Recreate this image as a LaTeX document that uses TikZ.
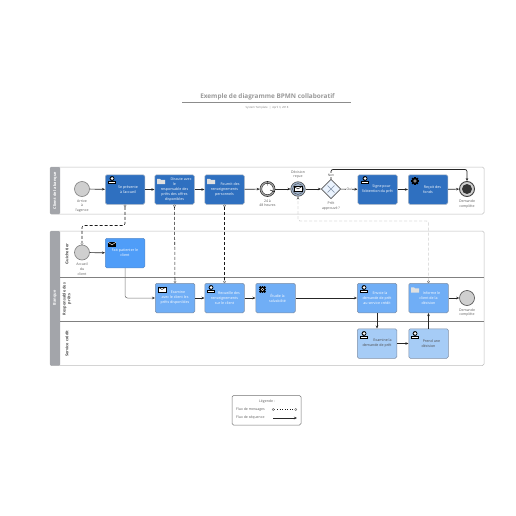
\documentclass[tikz,border=0pt]{standalone}
\usepackage{fontspec}
\setmainfont{Open Sans}
\usetikzlibrary{arrows.meta,shapes.geometric,calc,positioning}
\definecolor{taskdark}{HTML}{2F70C0}
\definecolor{taskmid}{HTML}{4F9DF8}
\definecolor{tasklane}{HTML}{70AEF6}
\definecolor{tasklight}{HTML}{A6CCF6}
\definecolor{poolgray}{HTML}{A3A5AA}
\definecolor{borderg}{HTML}{BDBDBD}
\definecolor{evgray}{HTML}{CFCFCF}
\definecolor{softb}{HTML}{7F8FA6}
\tikzset{
  pool/.style={draw=borderg,line width=.5pt,rounded corners=1.5pt},
  poolhead/.style={fill=poolgray,draw=none,rounded corners=1pt},
  lane/.style={draw=black!50,line width=.6pt},
  task/.style={rectangle,rounded corners=1.5pt,minimum width=39.5pt,minimum height=29.5pt,inner sep=0pt,line width=.5pt,align=center,font=\fontsize{3.6}{4.9}\selectfont},
  tdark/.style={task,fill=taskdark,draw=softb!70,text=white},
  tmid/.style={task,fill=taskmid,draw=taskdark!80,text=white},
  tlane/.style={task,fill=tasklane,draw=softb,text=white},
  tlight/.style={task,fill=tasklight,draw=softb,text=black!70},
  evt/.style={circle,minimum size=15pt,inner sep=0pt,fill=evgray,draw=black!50,line width=.6pt},
  lab/.style={align=center,inner sep=0pt,text=black!65,font=\fontsize{3.5}{4.8}\selectfont},
  seq/.style={draw=black!85,line width=.7pt,-{Stealth[length=3pt,width=2.5pt]}},
  msg/.style={draw=black!90,line width=.55pt,densely dashed,{Circle[open,fill=white,length=2.6pt,width=2.6pt,line width=.3pt,sep=0pt,black!60]}-{Circle[open,fill=white,length=2.6pt,width=2.6pt,line width=.3pt,black!60]},rounded corners=2pt},
  msgl/.style={draw=black!35,line width=.45pt,densely dashed,{Circle[open,fill=white,length=2.6pt,width=2.6pt,line width=.3pt,black!60]}-{Stealth[length=3pt,width=2.5pt,black!60]},rounded corners=2pt},
  lanelab/.style={rotate=90,align=center,inner sep=0pt,font=\bfseries\fontsize{3.9}{4.8}\selectfont,text=black!70},
  headlab/.style={rotate=90,align=center,inner sep=0pt,font=\bfseries\fontsize{3.9}{4.8}\selectfont,text=white},
  pics/usericon/.style={code={
    \fill[black] (-3.8,3) rectangle (3.8,-0.2);
    \fill[black] (0,-2.5) circle (2.4);
    \fill[white] (-2.9,2.3) rectangle (2.9,.6);
    \fill[white] (0,-2.5) circle (1.5);
  }},
  pics/foldericon/.style={code={
    \fill[black!12] (-4,3) -- (-4,-2.2) -- (-1,-2.2) -- (0,-1.2) -- (4,-1.2) -- (4,3) -- cycle;
  }},
  pics/gearicon/.style={code={
    \foreach \a in {0,45,...,315}{\fill[black,rotate=\a] (-.9,-3.9) rectangle (.9,-2);}
    \fill[black] (0,0) circle (3);
    \fill[white] (0,0) circle (1.6);
    \fill[black] (0,0) circle (.8);
  }},
  pics/envicon/.style={code={
    \fill[black] (-4,-2.6) rectangle (4,2.6);
    \draw[white,line width=.45pt] (-4,-2.4) -- (0,.4) -- (4,-2.4);
  }},
  pics/envwhite/.style={code={
    \fill[white] (-4,-2.5) rectangle (4,2.5);
    \draw[black,line width=.6pt] (-4,-2.5) rectangle (4,2.5);
    \draw[black,line width=.4pt] (-4,-2.5) -- (0,0) -- (4,-2.5);
  }},
}
\begin{document}
\begin{tikzpicture}[x=1pt,y=-1pt]
\useasboundingbox[fill=white] (0,0) rectangle (516,516);
% title
\node[inner sep=0pt,text=black!40,font=\bfseries\fontsize{6.4}{8}\selectfont] (title) at (267.5,97) {Exemple de diagramme BPMN collaboratif};
\coordinate (tl) at (182,102.5); \coordinate (tr) at (351,102.5);
\draw[black!45,line width=.5pt] (tl) -- (tr);
\node[inner sep=0pt,text=black!50,font=\fontsize{2.8}{3.5}\selectfont] (sub) at (267,107.5) {System Template \ | \ April 3, 2018};
% pools
\draw[pool] (50,167) rectangle (484,214);
\draw[pool] (50,231) rectangle (484,365.5);
\fill[poolhead] (50,167) rectangle (60,214);
\fill[poolhead] (50,231) rectangle (60,365.5);
\coordinate (l1a) at (60,277); \coordinate (l1b) at (484,277);
\coordinate (l2a) at (60,321.5); \coordinate (l2b) at (484,321.5);
\draw[lane] (l1a) -- (l1b);
\draw[lane] (l2a) -- (l2b);
\node[headlab] (h1) at (55,190.5) {Client de la banque};
\node[headlab] (h2) at (55,298) {Banque};
\node[lanelab] (g) at (67,254) {Guichetier};
\node[lanelab] (r) at (67,299) {Responsable des\\prêts};
\node[lanelab] (s) at (67,343.5) {Service crédit};
% row 1
\node[evt] (e1) at (82,189) {};
\node[lab,below=2.5pt of e1] (e1l) {Arrive\\à\\l'agence};
\node[tdark] (a1) at (125,189.5) {\hspace{6pt}Se présente\\\hspace{6pt}à l'accueil};
\node[tdark] (a2) at (174.5,189.5) {\hspace{13pt}Discute avec\\le\\responsable des\\prêts des offres\\disponibles};
\node[tdark] (a3) at (224.5,189.5) {\hspace{11pt}Fournit des\\renseignements\\personnels};
\node[evt,fill=black!30,draw=black!80] (tm) at (267.5,189) {};
\node[circle,minimum size=11.5pt,inner sep=0pt,draw=black!80,fill=white,line width=.5pt] (tmi) at (tm) {};
\draw[black,line width=.4pt] (tm) -- +(0,-3.5) (tm) -- +(2.5,1);
\node[lab,below=2.5pt of tm] (tml) {24 à\\48 heures};
\node[evt,minimum size=14.5pt,fill=evgray!70!taskdark,draw=black!70] (ms) at (298,189) {};
\node[circle,minimum size=11pt,inner sep=0pt,draw=black!70,fill=none,line width=.4pt] (msi) at (ms) {};
\pic at (ms) {envwhite};
\node[lab,above=2.5pt of ms] (msl) {Décision\\reçue};
\node[diamond,minimum width=19.5pt,minimum height=19.5pt,inner sep=0pt,draw=black!65,fill=taskmid!12,line width=.6pt] (gw) at (331,189) {};
\draw[softb,line width=.6pt] (327.5,185.5) -- (334.5,192.5) (334.5,185.5) -- (327.5,192.5);
\node[lab,below=2.5pt of gw] (gwl) {Prêt\\approuvé ?};
\node[tdark] (a4) at (377.5,189.5) {\hspace{8pt}Signe pour\\l'obtention du prêt};
\node[tdark] (a5) at (428,189.5) {\hspace{9pt}Reçoit des\\fonds};
\node[evt,line width=.9pt,draw=black!75] (e2) at (467,189) {};
\node[circle,minimum size=10pt,inner sep=0pt,fill=black!80] (e2i) at (e2) {};
\node[lab,below=2.5pt of e2] (e2l) {Demande\\complète};
% row 2
\node[evt] (e3) at (82,252.5) {};
\node[lab,below=2.5pt of e3] (e3l) {Accueil\\du\\client};
\node[tmid] (b1) at (125,253) {Fait patienter le\\client};
% row 3
\node[tlane] (c1) at (175,298) {\hspace{6pt}Examine\\avec le client les\\prêts disponibles};
\node[tlane] (c2) at (224.5,298) {\hspace{9pt}Recueille des\\renseignements\\sur le client};
\node[tlane] (c3) at (275.5,298) {\hspace{4pt}Étudie la\\\hspace{4pt}solvabilité};
\node[tlane] (c4) at (377,298) {\hspace{6pt}Envoie la\\demande de prêt\\au service crédit};
\node[tlane] (c5) at (428.5,298) {\hspace{6pt}Informe le\\client de la\\décision};
\node[evt,draw=black!70] (e4) at (467,298) {};
\node[lab,below=2.5pt of e4] (e4l) {Demande\\complète};
% row 4
\node[tlight] (d1) at (377,343.5) {\hspace{11pt}Examine la\\demande de prêt};
\node[tlight] (d2) at (428.5,343.5) {\hspace{6pt}Prend une\\décision};
% icons
\pic at (112,181) {usericon};
\pic at (161,181) {foldericon};
\pic at (211,181) {foldericon};
\pic at (365,181) {usericon};
\pic at (415,181) {gearicon};
\pic at (112,244.5) {envicon};
\pic at (162,289.5) {envwhite};
\pic at (211,290) {usericon};
\pic at (262.5,289.5) {gearicon};
\pic at (364,290) {usericon};
\pic at (415,289.5) {foldericon};
\pic at (364,336) {usericon};
\pic at (415,336) {usericon};
% sequence flows
\draw[seq] (e1) -- (a1);
\draw[seq] (a1) -- (a2);
\draw[seq] (a2) -- (a3);
\draw[seq] (a3) -- (tm);
\draw[seq] (tm) -- (ms);
\draw[seq] (ms) -- (gw);
\draw[seq] (gw) -- node[fill=white,inner sep=.4pt,text=black!70,font=\fontsize{3.3}{4}\selectfont] (oui) {Oui} (a4);
\draw[seq] (a4) -- (a5);
\draw[seq] (a5) -- (e2);
\coordinate (lp1) at (331,169.5);
\coordinate (lp2) at (467,169.5);
\draw[seq,rounded corners=2pt] (gw.north) -- (lp1) -- (lp2) -- (e2.north);
\node[fill=white,inner sep=.4pt,text=black!70,font=\fontsize{3.3}{4}\selectfont] (non) at (331,175) {Non};
\draw[seq] (e3) -- (b1);
\coordinate (bc) at (125,298);
\draw[draw=black!55,line width=.5pt,-{Stealth[length=3pt,width=2.5pt,black!80]},rounded corners=2.5pt] (b1.south) -- (bc) -- (c1.west);
\draw[seq] (c1) -- (c2);
\draw[seq] (c2) -- (c3);
\draw[seq] (c3) -- (c4);
\draw[seq] (c4) -- (d1);
\draw[seq] (d1) -- (d2);
\draw[seq] (d2) -- (c5);
\draw[seq] (c5) -- (e4);
% message flows
\coordinate (m1) at (125,225.5);
\coordinate (m2) at (82,225.5);
\draw[msg] (a1.south) -- (m1) -- (m2) -- (e3.north);
\draw[msg] (a2.south) -- (c1.north);
\draw[msg] (a3.south) -- (c2.north);
\coordinate (m3) at (428.5,221);
\coordinate (m4) at (298,221);
\draw[msgl] (c5.north) -- (m3) -- (m4) -- (ms.south);
% legend
\draw[draw=black!55,line width=.5pt,rounded corners=1.5pt] (232,395.5) rectangle (301,425);
\node[inner sep=0pt,text=black!65,font=\fontsize{3.5}{4}\selectfont] (lg) at (267,401.5) {Légende :};
\node[anchor=west,inner sep=0pt,text=black!65,font=\fontsize{3.5}{4}\selectfont] (lm) at (236,409.5) {Flux de messages};
\node[anchor=west,inner sep=0pt,text=black!65,font=\fontsize{3.5}{4}\selectfont] (ls) at (236,418) {Flux de séquence};
\coordinate (lma) at (272,409.5); \coordinate (lmb) at (297,409.5);
\coordinate (lsa) at (273,418); \coordinate (lsb) at (297,418);
\draw[msg,dotted] (lma) -- (lmb);
\draw[seq] (lsa) -- (lsb);
\end{tikzpicture}
\end{document}
